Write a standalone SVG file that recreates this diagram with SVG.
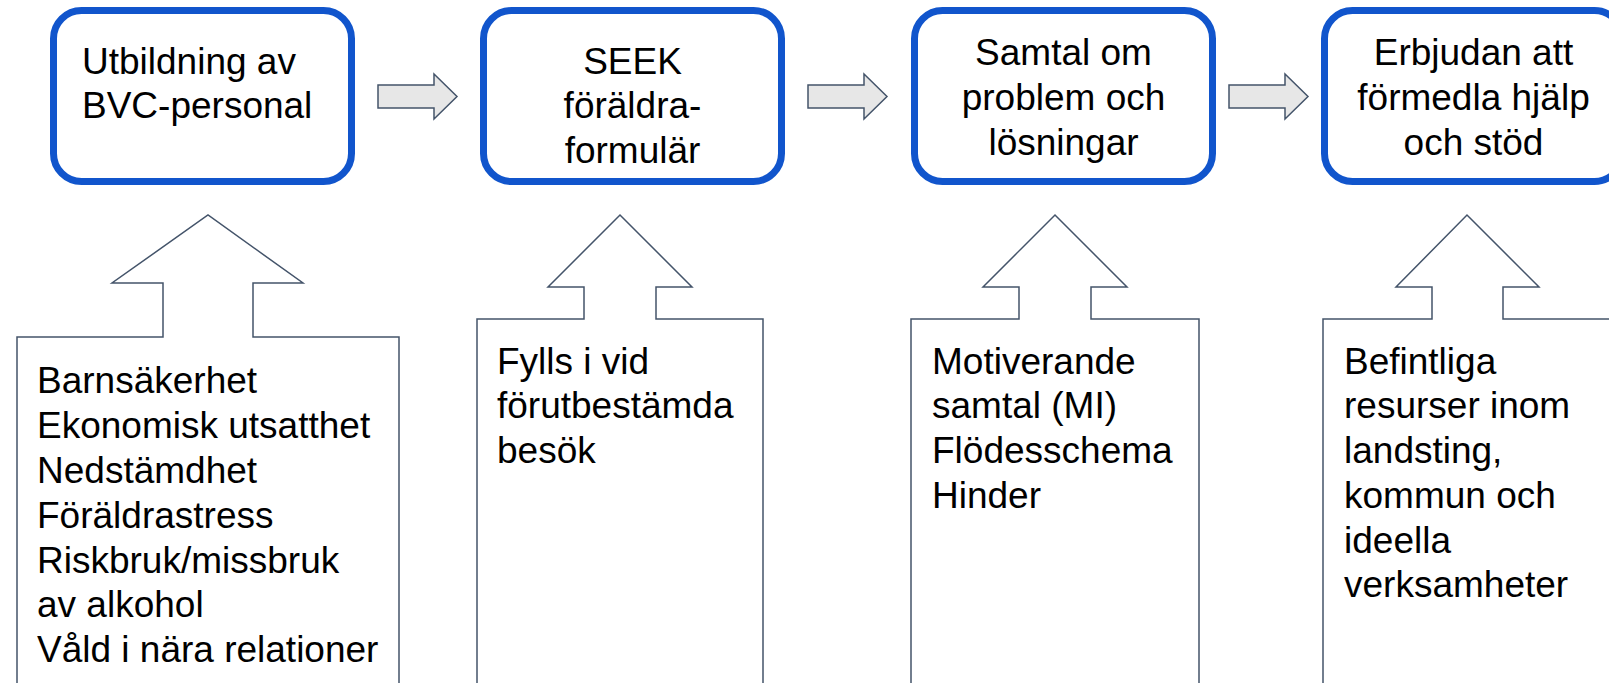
<svg xmlns="http://www.w3.org/2000/svg" width="1609" height="683" viewBox="0 0 1609 683">
<style>
.box{fill:#ffffff;stroke:#1155cc;stroke-width:7}
.up{fill:#ffffff;stroke:#44546a;stroke-width:1.5;stroke-linejoin:miter}
.harr{fill:#e7e7e7;stroke:#44546a;stroke-width:1.5}
text{font-family:"Liberation Sans",Arial,sans-serif;font-size:37px;fill:#000000}
.c{text-anchor:middle}
</style>
<rect width="1609" height="683" fill="#ffffff"/>
<g id="connectors">
<polygon class="harr" points="378,85 434,85 434,74 457,96.5 434,119 434,108 378,108"/>
<polygon class="harr" points="808,85 864,85 864,74 887,96.5 864,119 864,108 808,108"/>
<polygon class="harr" points="1229,85 1285,85 1285,74 1308,96.5 1285,119 1285,108 1229,108"/>
</g>
<g id="node1">
<rect class="box" x="53.5" y="10.5" width="298" height="171" rx="28"/>
<text x="82" y="74">Utbildning av</text>
<text x="82" y="118">BVC-personal</text>
</g>
<g id="node2">
<rect class="box" x="483.5" y="10.5" width="298" height="171" rx="28"/>
<text class="c" x="632.5" y="74">SEEK</text>
<text class="c" x="632.5" y="118">föräldra-</text>
<text class="c" x="632.5" y="163">formulär</text>
</g>
<g id="node3">
<rect class="box" x="914.5" y="10.5" width="298" height="171" rx="28"/>
<text class="c" x="1063.5" y="65">Samtal om</text>
<text class="c" x="1063.5" y="110">problem och</text>
<text class="c" x="1063.5" y="155">lösningar</text>
</g>
<g id="node4">
<rect class="box" x="1324.5" y="10.5" width="298" height="171" rx="28"/>
<text class="c" x="1473.5" y="65">Erbjudan att</text>
<text class="c" x="1473.5" y="110">förmedla hjälp</text>
<text class="c" x="1473.5" y="155">och stöd</text>
</g>
<g id="callout1">
<polygon class="up" points="17,695 17,337 163,337 163,283 112,283 208,215 303,283 253,283 253,337 399,337 399,695"/>
<text x="37" y="393">Barnsäkerhet</text>
<text x="37" y="438">Ekonomisk utsatthet</text>
<text x="37" y="483">Nedstämdhet</text>
<text x="37" y="528">Föräldrastress</text>
<text x="37" y="573">Riskbruk/missbruk</text>
<text x="37" y="617">av alkohol</text>
<text x="37" y="662">Våld i nära relationer</text>
</g>
<g id="callout2">
<polygon class="up" points="477,695 477,319 584,319 584,287 548,287 620,215 692,287 656,287 656,319 763,319 763,695"/>
<text x="497" y="374">Fylls i vid</text>
<text x="497" y="418">förutbestämda</text>
<text x="497" y="463">besök</text>
</g>
<g id="callout3">
<polygon class="up" points="911,695 911,319 1019,319 1019,287 983,287 1055,215 1127,287 1091,287 1091,319 1199,319 1199,695"/>
<text x="932" y="374">Motiverande</text>
<text x="932" y="418">samtal (MI)</text>
<text x="932" y="463">Flödesschema</text>
<text x="932" y="508">Hinder</text>
</g>
<g id="callout4">
<polygon class="up" points="1323,695 1323,319 1432,319 1432,287 1396,287 1467,215 1539,287 1503,287 1503,319 1611,319 1611,695"/>
<text x="1344" y="374">Befintliga</text>
<text x="1344" y="418">resurser inom</text>
<text x="1344" y="463">landsting,</text>
<text x="1344" y="508">kommun och</text>
<text x="1344" y="553">ideella</text>
<text x="1344" y="597">verksamheter</text>
</g>
</svg>
